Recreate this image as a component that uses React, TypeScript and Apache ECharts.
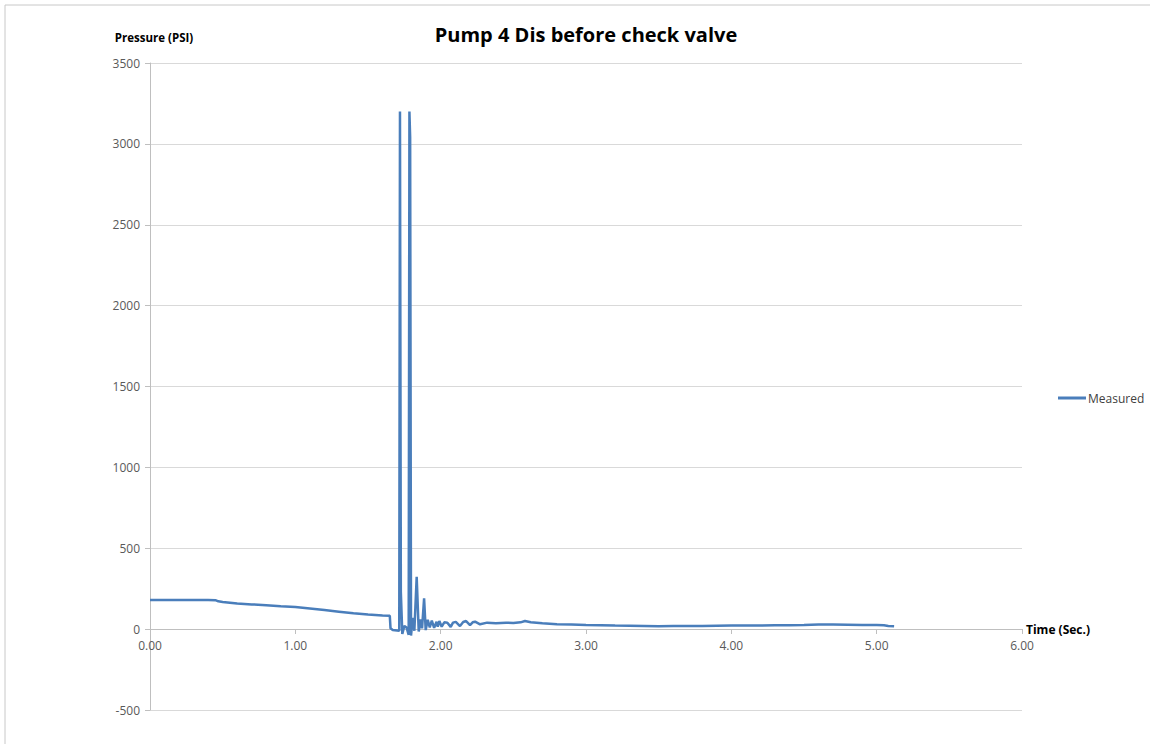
import React, { useEffect, useRef } from "react";
import * as echarts from "echarts";

const TITLE = "Pump 4 Dis before check valve";
const SERIES_NAME = "Measured";
const Y_NAME = "Pressure (PSI)";
const X_NAME = "Time (Sec.)";

const timeSec: number[] = [
  0.0, 0.1, 0.2, 0.3, 0.4, 0.45, 0.47, 0.5, 0.55, 0.6, 0.7, 0.8, 0.9, 1.0,
  1.1, 1.2, 1.3, 1.4, 1.5, 1.6, 1.65, 1.655, 1.67, 1.7, 1.715, 1.72, 1.726,
  1.736, 1.75, 1.765, 1.78, 1.785, 1.79, 1.796, 1.808, 1.819, 1.835, 1.849,
  1.863, 1.872, 1.886, 1.897, 1.911, 1.925, 1.939, 1.955, 1.972, 1.98, 1.991,
  2.007, 2.025, 2.046, 2.069, 2.085, 2.104, 2.133, 2.155, 2.175, 2.202, 2.22,
  2.237, 2.271, 2.32, 2.38, 2.45, 2.5, 2.55, 2.58, 2.62, 2.7, 2.8, 2.9, 3.0,
  3.1, 3.2, 3.3, 3.4, 3.5, 3.6, 3.7, 3.8, 3.9, 4.0, 4.1, 4.2, 4.3, 4.4, 4.5,
  4.6, 4.7, 4.8, 4.9, 5.0, 5.05, 5.08, 5.12,
];

const pressurePsi: number[] = [
  180, 180, 180, 180, 180, 179, 172, 168, 163, 158, 153, 148, 142, 137,
  128, 118, 108, 98, 90, 84, 82, 5, -5, -8, -10, 3200, 230,
  -30, 20, 10, -35, 3200, 3040, -40, 70, -10, 323, -15,
  60, 5, 190, -6, 58, 10, 52, 8, 45, 15, 50,
  15, 42, 40, 14, 40, 45, 19, 44, 50, 25, 42,
  46, 30, 40, 36, 40, 38, 42, 50, 42, 36, 30, 28, 25,
  24, 22, 21, 20, 18, 20, 19, 20, 21, 22, 23, 22, 24, 24, 26,
  29, 28, 27, 26, 25, 24, 20, 18,
];

const yTicks = { min: -500, max: 3500, interval: 500 };
const xTicks = { min: 0, max: 6, interval: 1 };

const FONT = "'Open Sans', sans-serif";
const AXIS_GREY = "#bfbfbf";

export default function App() {
  const ref = useRef<HTMLDivElement>(null);

  useEffect(() => {
    if (!ref.current) return;
    const chart = echarts.init(ref.current, undefined, { renderer: "svg" });
    const data = timeSec.map((t, i) => [t, pressurePsi[i]]);
    chart.setOption({
      animation: false,
      backgroundColor: "#ffffff",
      textStyle: { fontFamily: FONT },
      title: {
        text: TITLE,
        left: 581,
        textAlign: "center",
        top: 19,
        textStyle: {
          fontFamily: FONT,
          fontSize: 20,
          fontWeight: "bold",
          color: "#000000",
        },
      },
      legend: {
        orient: "vertical",
        left: 1053,
        top: 387,
        icon: "rect",
        itemWidth: 28,
        itemHeight: 3,
        itemGap: 5,
        textStyle: { fontFamily: FONT, fontSize: 12, color: "#404040", padding: [0, 0, 0, -3] },
        data: [SERIES_NAME],
      },
      grid: [
        { left: 150, right: 128, top: 63, bottom: 34, containLabel: false },
        { left: 150, right: 128, top: 63, bottom: 115, containLabel: false },
      ],
      xAxis: [
        {
          type: "value",
          gridIndex: 0,
          min: xTicks.min,
          max: xTicks.max,
          interval: xTicks.interval,
          axisLine: { show: false },
          axisTick: { show: false },
          axisLabel: { show: false },
          splitLine: { show: false },
        },
        {
          type: "value",
          gridIndex: 1,
          min: xTicks.min,
          max: xTicks.max,
          interval: xTicks.interval,
          name: X_NAME,
          nameLocation: "end",
          nameGap: 4,
          nameTextStyle: {
            fontFamily: FONT,
            fontSize: 12,
            fontWeight: "bold",
            color: "#000000",
            align: "left",
            verticalAlign: "middle",
          },
          axisLine: { show: true, onZero: false, lineStyle: { color: AXIS_GREY, width: 1 } },
          axisTick: { show: true, length: 5, inside: false, lineStyle: { color: AXIS_GREY } },
          axisLabel: {
            fontFamily: FONT,
            fontSize: 12,
            color: "#595959",
            margin: 10,
            formatter: (v: number) => v.toFixed(2),
          },
          splitLine: { show: false },
        },
      ],
      yAxis: [
        {
          type: "value",
          gridIndex: 0,
          min: yTicks.min,
          max: yTicks.max,
          interval: yTicks.interval,
          name: Y_NAME,
          nameLocation: "end",
          nameGap: 20,
          nameTextStyle: {
            fontFamily: FONT,
            fontSize: 11.5,
            fontWeight: "bold",
            color: "#000000",
            align: "center",
            padding: [0, 0, 0, 8],
          },
          axisLine: { show: true, lineStyle: { color: AXIS_GREY, width: 1 } },
          axisTick: { show: true, length: 5, lineStyle: { color: AXIS_GREY } },
          axisLabel: {
            fontFamily: FONT,
            fontSize: 12,
            color: "#595959",
            margin: 10,
            formatter: (v: number) => String(v),
          },
          splitLine: { show: true, lineStyle: { color: "#d9d9d9", width: 1 } },
        },
        {
          type: "value",
          gridIndex: 1,
          min: 0,
          max: yTicks.max,
          show: false,
        },
      ],
      series: [
        {
          name: SERIES_NAME,
          type: "line",
          xAxisIndex: 0,
          yAxisIndex: 0,
          data,
          showSymbol: false,
          symbol: "none",
          lineStyle: { color: "#4a7ebb", width: 2.5 },
          itemStyle: { color: "#4a7ebb" },
        },
      ],
      graphic: [
        {
          type: "rect",
          shape: { x: 5, y: 5, width: 1170, height: 770 },
          style: { fill: "none", stroke: "#c8c8c8", lineWidth: 1 },
          silent: true,
        },
      ],
    });
    return () => chart.dispose();
  }, []);

  return (
    <div
      ref={ref}
      style={{ position: "fixed", left: 0, top: 0, width: 1150, height: 744 }}
    />
  );
}
